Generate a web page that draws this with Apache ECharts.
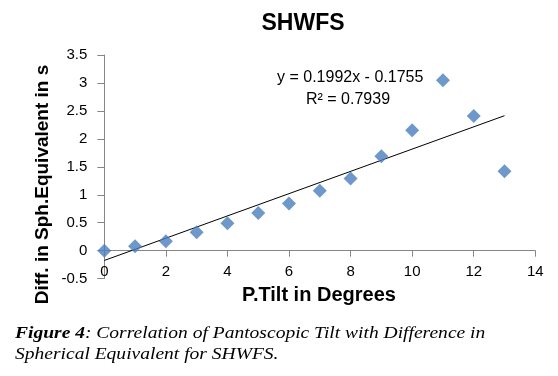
<!DOCTYPE html>
<html>
<head>
<meta charset="utf-8">
<script src="https://cdn.jsdelivr.net/npm/echarts@6/dist/echarts.min.js"></script>
<style>
  html, body { margin: 0; padding: 0; background: #fff; }
  #chart { width: 558px; height: 376px; }
</style>
</head>
<body>
<div id="chart"></div>
<script>
// data
const tilt = [0, 1, 2, 3, 4, 5, 6, 7, 8, 9, 10, 11, 12, 13];
const diffSE = [0.0, 0.08, 0.17, 0.33, 0.49, 0.675, 0.845, 1.07, 1.29, 1.69, 2.155, 3.05, 2.41, 1.42];
// trendline coefficients as printed on the chart
const slope = 0.1992, intercept = -0.1755, r2 = 0.7939;
const trendX = [0, 13];

const points = tilt.map((x, i) => [x, diffSE[i]]);
const trend = trendX.map(x => [x, slope * x + intercept]);

const chart = echarts.init(document.getElementById('chart'));
const axisGrey = '#868686';
const tickFont = { color: '#000', fontFamily: 'Liberation Sans', fontSize: 15 };

chart.setOption({
  backgroundColor: '#fff',
  animation: false,
  title: {
    text: 'SHWFS',
    left: 298, top: 7, textAlign: 'center',
    textStyle: { fontFamily: 'Liberation Sans', fontWeight: 'bold', fontSize: 23, color: '#000' }
  },
  grid: { left: 104.3, right: 22.7, top: 55, bottom: 97.4 },
  xAxis: [
    {
      // line + ticks crossing at y = 0
      type: 'value',
      min: 0, max: 14, interval: 2,
      axisLine: { onZero: true, lineStyle: { color: axisGrey } },
      axisTick: { show: true, length: 6, lineStyle: { color: axisGrey } },
      axisLabel: { show: false },
      splitLine: { show: false }
    },
    {
      // labels only, placed just under the zero line
      type: 'value',
      position: 'bottom',
      min: 0, max: 14, interval: 2,
      axisLine: { show: false, onZero: false },
      axisTick: { show: false },
      axisLabel: Object.assign({ margin: -14 }, tickFont),
      splitLine: { show: false }
    }
  ],
  yAxis: {
    type: 'value',
    min: -0.5, max: 3.5, interval: 0.5,
    axisLine: { show: true, lineStyle: { color: axisGrey } },
    axisTick: { show: true, length: 7, lineStyle: { color: axisGrey } },
    axisLabel: Object.assign({ margin: 17 }, tickFont),
    splitLine: { show: false }
  },
  series: [
    {
      type: 'line',
      data: trend,
      symbol: 'none',
      lineStyle: { color: '#000', width: 1 },
      z: 3
    },
    {
      type: 'scatter',
      data: points,
      symbol: 'diamond',
      symbolSize: 14,
      itemStyle: { color: '#4A7EBB' },
      z: 4
    }
  ],
  graphic: [
    {
      type: 'text', x: 319, y: 295,
      style: {
        text: 'P.Tilt in Degrees', fill: '#000',
        font: 'bold 20px "Liberation Sans"', align: 'center', verticalAlign: 'middle'
      }
    },
    {
      type: 'text', x: 43, y: 184.5, rotation: Math.PI / 2,
      style: {
        text: 'Diff. in Sph.Equivalent in s', fill: '#000',
        font: 'bold 19px "Liberation Sans"', align: 'center', verticalAlign: 'middle'
      }
    },
    {
      type: 'text', left: 277, top: 70,
      style: { text: 'y = 0.1992x - 0.1755', fill: '#000', font: '16px "Liberation Sans"' }
    },
    {
      type: 'text', left: 306, top: 92,
      style: { text: 'R² = ' + r2.toFixed(4), fill: '#000', font: '16px "Liberation Sans"' }
    },
    {
      type: 'text', x: 15, y: 323, scaleX: 1.22,
      style: {
        text: '{b|Figure 4}{i|: Correlation of Pantoscopic Tilt with Difference in}\n{i|Spherical Equivalent for SHWFS.}',
        rich: {
          b: { fontFamily: 'Liberation Serif', fontStyle: 'italic', fontWeight: 'bold', fontSize: 16, fill: '#000', lineHeight: 21 },
          i: { fontFamily: 'Liberation Serif', fontStyle: 'italic', fontSize: 16, fill: '#000', lineHeight: 21 }
        }
      }
    }
  ]
});
</script>
</body>
</html>
